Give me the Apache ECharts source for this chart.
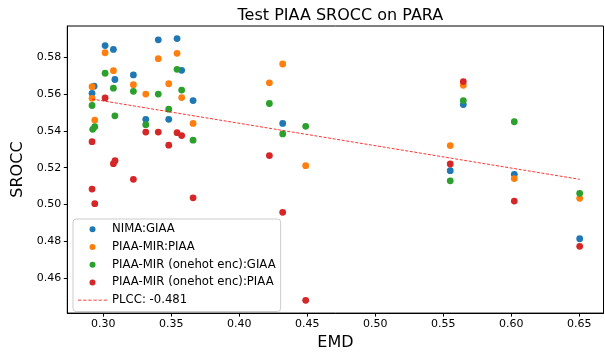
<!DOCTYPE html>
<html>
<head>
<meta charset="utf-8">
<script src="https://cdn.jsdelivr.net/npm/echarts@6/dist/echarts.min.js"></script>
<style>html,body{margin:0;padding:0;background:#fff}#c{width:605px;height:356px}</style>
</head>
<body>
<div id="c"></div>
<script>
// ---- data ----
const xTicks = [0.30, 0.35, 0.40, 0.45, 0.50, 0.55, 0.60, 0.65];
const yTicks = [0.46, 0.48, 0.50, 0.52, 0.54, 0.56, 0.58];

const nimaGiaaX = [0.2917, 0.2932, 0.3013, 0.3074, 0.3085, 0.3221, 0.3312, 0.3404, 0.3481, 0.3542, 0.3576, 0.3660, 0.4319, 0.5551, 0.5647, 0.6022, 0.6503];
const nimaGiaaY = [0.5603, 0.5642, 0.5862, 0.5841, 0.5678, 0.5703, 0.5462, 0.5893, 0.5462, 0.5900, 0.5728, 0.5564, 0.5440, 0.5184, 0.5542, 0.5164, 0.4815];

const mirPiaaX = [0.2917, 0.2917, 0.2937, 0.3013, 0.3074, 0.3221, 0.3312, 0.3404, 0.3481, 0.3542, 0.3576, 0.3660, 0.4221, 0.4319, 0.4488, 0.5551, 0.5647, 0.6022, 0.6503];
const mirPiaaY = [0.5639, 0.5576, 0.5458, 0.5823, 0.5726, 0.5650, 0.5599, 0.5791, 0.5655, 0.5820, 0.5580, 0.5440, 0.5660, 0.5762, 0.5211, 0.5320, 0.5647, 0.5141, 0.5034];

const onehotGiaaX = [0.2917, 0.2922, 0.2937, 0.3013, 0.3074, 0.3085, 0.3221, 0.3312, 0.3404, 0.3481, 0.3542, 0.3576, 0.3660, 0.4221, 0.4319, 0.4488, 0.5551, 0.5647, 0.6022, 0.6503];
const onehotGiaaY = [0.5537, 0.5408, 0.5422, 0.5712, 0.5631, 0.5481, 0.5614, 0.5433, 0.5599, 0.5517, 0.5733, 0.5621, 0.5349, 0.5548, 0.5383, 0.5424, 0.5129, 0.5564, 0.5449, 0.5061];

const onehotPiaaX = [0.2917, 0.2917, 0.2937, 0.3013, 0.3074, 0.3086, 0.3221, 0.3312, 0.3404, 0.3481, 0.3542, 0.3576, 0.3660, 0.4221, 0.4319, 0.4488, 0.5551, 0.5647, 0.6022, 0.6503];
const onehotPiaaY = [0.5341, 0.5084, 0.5005, 0.5578, 0.5222, 0.5238, 0.5137, 0.5393, 0.5393, 0.5322, 0.5390, 0.5374, 0.5037, 0.5266, 0.4958, 0.4481, 0.5220, 0.5667, 0.5019, 0.4774];

const fitX = [0.2917, 0.6503];
const fitY = [0.5572, 0.5137];

const seriesNames = ['NIMA:GIAA', 'PIAA-MIR:PIAA', 'PIAA-MIR (onehot enc):GIAA', 'PIAA-MIR (onehot enc):PIAA', 'PLCC: -0.481'];
const colors = ['#1f77b4', '#ff7f0e', '#2ca02c', '#d62728'];

// ---- chart ----
const FONT = 'DejaVu Sans';
function pairs(xs, ys) { return xs.map((x, i) => [x, ys[i]]); }
function scatter(name, xs, ys, color) {
  return {
    name: name, type: 'scatter', data: pairs(xs, ys),
    symbol: 'circle', symbolSize: 6.8,
    itemStyle: { color: color, opacity: 1 },
    emphasis: { disabled: true }
  };
}
// dashed legend icon (short bars)
let dashPath = 'path://';
for (let i = 0; i < 6; i++) { const x0 = i * 4.6; dashPath += 'M' + x0 + ',0h3v0.8h-3z'; }

const chart = echarts.init(document.getElementById('c'), null, { renderer: 'canvas' });
chart.setOption({
  animation: false,
  backgroundColor: '#fff',
  title: {
    text: 'Test PIAA SROCC on PARA',
    left: 335.4, top: 3, textAlign: 'center',
    textStyle: { fontFamily: FONT, fontSize: 16, fontWeight: 'normal', color: '#000' }
  },
  grid: {
    left: 67.3, right: 1.5, top: 26, bottom: 40.3,
    show: true, borderColor: '#000', borderWidth: 1, backgroundColor: 'transparent'
  },
  legend: {
    orient: 'vertical', left: 73, top: 219,
    padding: [1.5, 5, 2.5, 5], itemGap: 0,
    itemWidth: 29, itemHeight: 6,
    backgroundColor: 'rgba(255,255,255,0.8)', borderColor: '#cccccc', borderWidth: 1, borderRadius: 3,
    textStyle: { fontFamily: FONT, fontSize: 11.7, color: '#000', lineHeight: 17.7 },
    data: [
      { name: seriesNames[0], icon: 'circle' },
      { name: seriesNames[1], icon: 'circle' },
      { name: seriesNames[2], icon: 'circle' },
      { name: seriesNames[3], icon: 'circle' },
      { name: seriesNames[4], icon: dashPath, itemStyle: { color: '#ff0000' } }
    ],
    selectedMode: false
  },
  xAxis: {
    type: 'value', min: 0.2735, max: 0.6678,
    name: 'EMD', nameLocation: 'middle', nameGap: 18,
    nameTextStyle: { fontFamily: FONT, fontSize: 16, color: '#000' },
    axisLine: { show: true, lineStyle: { color: '#000', width: 1 } },
    axisTick: { show: true, inside: false, length: 3.5, customValues: xTicks, lineStyle: { color: '#000', width: 1 } },
    axisLabel: { customValues: xTicks, margin: 6, fontFamily: FONT, fontSize: 11, color: '#000',
      formatter: v => v.toFixed(2) },
    splitLine: { show: false }
  },
  yAxis: {
    type: 'value', min: 0.4412, max: 0.5968,
    name: 'SROCC', nameLocation: 'middle', nameGap: 28,
    nameTextStyle: { fontFamily: FONT, fontSize: 16, color: '#000' },
    axisLine: { show: true, lineStyle: { color: '#000', width: 1 } },
    axisTick: { show: true, inside: false, length: 3.5, customValues: yTicks, lineStyle: { color: '#000', width: 1 } },
    axisLabel: { customValues: yTicks, margin: 6, fontFamily: FONT, fontSize: 11, color: '#000',
      formatter: v => v.toFixed(2) },
    splitLine: { show: false }
  },
  series: [
    scatter(seriesNames[0], nimaGiaaX, nimaGiaaY, colors[0]),
    scatter(seriesNames[1], mirPiaaX, mirPiaaY, colors[1]),
    scatter(seriesNames[2], onehotGiaaX, onehotGiaaY, colors[2]),
    scatter(seriesNames[3], onehotPiaaX, onehotPiaaY, colors[3]),
    {
      name: seriesNames[4], type: 'line', data: pairs(fitX, fitY),
      symbol: 'none', showSymbol: false,
      lineStyle: { color: '#ff0000', width: 0.8, type: [3, 1.6] },
      itemStyle: { color: '#ff0000' },
      emphasis: { disabled: true }, z: 3
    }
  ]
});
</script>
</body>
</html>
